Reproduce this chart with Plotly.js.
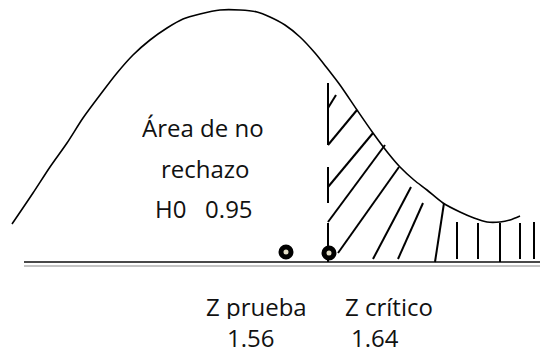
<!DOCTYPE html>
<html>
<head>
<meta charset="utf-8">
<script src="https://cdn.plot.ly/plotly-3.0.1.min.js"></script>
<style>
  html, body { margin: 0; padding: 0; background: #fff; }
  #chart { width: 540px; height: 354px; }
</style>
</head>
<body>
<div id="chart"></div>
<script>
// points (pixel-like units, y grows downwards)
var curveX = [12, 33, 50, 67, 83, 100, 117, 133, 150, 167, 183, 200, 220, 240, 257, 270, 285, 300, 315, 327, 340, 357, 373, 388, 400, 414, 427, 443, 460, 474, 487, 500, 510, 520];
var curveY = [224, 193, 167, 143, 118, 95, 73, 55, 40, 28, 19, 14, 10, 10, 12, 17, 25, 37, 53, 68, 85, 110, 133, 153, 167, 180, 190, 203, 212, 218, 222, 222, 220, 216];

var critX = [328, 328, null, 328, 328, null, 328, 328];
var critY = [83, 145, null, 167, 203, null, 223, 262];

var hatchX = [328, 336, null, 328, 357, null, 328, 373, null, 328, 385, null, 338, 399, null, 373, 411, null, 398, 423, null, 435, 444, null, 457, 457, null, 478, 478, null, 500, 500, null, 520, 520, null, 534, 534];
var hatchY = [108, 95, null, 145, 110, null, 187, 133, null, 222, 145, null, 253, 167, null, 259, 187, null, 259, 203, null, 262, 203, null, 259, 222, null, 259, 223, null, 262, 223, null, 259, 223, null, 259, 222];

var baseX = [24, 540];
var baseTopY = [262, 262];
var baseLowY = [266, 266];

var pointX = [286, 329];
var pointY = [252, 253];

var labelText = ["Área de no", "rechazo", "H0\u00a0\u00a0\u00a00.95", "Z prueba", "Z crítico", "1.56", "1.64"];
var labelX = [203, 205, 204, 256, 389, 250, 375];
var labelY = [127, 168, 208, 306, 306, 337, 337];

var traces = [
  { x: baseX, y: baseLowY, mode: "lines", line: { color: "#c4c4c4", width: 2 }, hoverinfo: "skip" },
  { x: baseX, y: baseTopY, mode: "lines", line: { color: "#4a4a4a", width: 2 }, hoverinfo: "skip" },
  { x: curveX, y: curveY, mode: "lines", line: { color: "#000", width: 1.6, shape: "spline", smoothing: 0.8 }, hoverinfo: "skip" },
  { x: critX, y: critY, mode: "lines", line: { color: "#000", width: 2 }, connectgaps: false, hoverinfo: "skip" },
  { x: hatchX, y: hatchY, mode: "lines", line: { color: "#000", width: 2 }, connectgaps: false, hoverinfo: "skip" },
  {
    x: pointX, y: pointY, mode: "markers",
    marker: { size: 10, color: "#e2ddc6", line: { color: "#000", width: 5 } },
    hoverinfo: "skip"
  }
];

var annotations = labelText.map(function (t, i) {
  return {
    text: t, x: labelX[i], y: labelY[i], xref: "x", yref: "y",
    showarrow: false, xanchor: "center", yanchor: "middle",
    height: 26, valign: "middle",
    font: { family: "'Open Sans', sans-serif", size: 24, color: "#111" }
  };
});

Plotly.newPlot("chart", traces, {
  width: 540,
  height: 354,
  margin: { l: 0, r: 0, t: 0, b: 0 },
  showlegend: false,
  paper_bgcolor: "#fff",
  plot_bgcolor: "#fff",
  xaxis: { range: [0, 540], visible: false, fixedrange: true },
  yaxis: { range: [354, 0], visible: false, fixedrange: true },
  annotations: annotations
}, { displayModeBar: false, staticPlot: true });
</script>
</body>
</html>
